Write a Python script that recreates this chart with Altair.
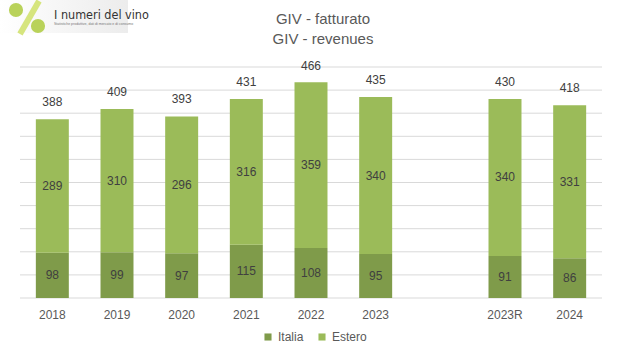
import altair as alt
import pandas as pd

# ---- data ----
categories = ["2018", "2019", "2020", "2021", "2022", "2023", " ", "2023R", "2024"]
bar_years = ["2018", "2019", "2020", "2021", "2022", "2023", "2023R", "2024"]
italia = [98, 99, 97, 115, 108, 95, 91, 86]
estero = [289, 310, 296, 316, 359, 340, 340, 331]
totals = [388, 409, 393, 431, 466, 435, 430, 418]
series = ["Italia", "Estero"]
colors = ["#7F9B4A", "#9BBB59"]
title_lines = ["GIV - fatturato", "GIV - revenues"]
grid_values = [0, 50, 100, 150, 200, 250, 300, 350, 400, 450, 500]

rows = []
for y, i, e in zip(bar_years, italia, estero):
    rows.append({"year": y, "serie": "Italia", "ord": 0, "value": i})
    rows.append({"year": y, "serie": "Estero", "ord": 1, "value": e})
df = pd.DataFrame(rows)
tot = pd.DataFrame({"year": bar_years, "total": totals})
grid_df = pd.DataFrame({"g": grid_values})

FONT = "Liberation Sans"
TXT = "#595959"
LBL = "#404040"

xscale = alt.Scale(domain=categories, paddingInner=0.49, paddingOuter=0.245)
yscale = alt.Scale(domain=[0, 500], nice=False)

xaxis = alt.Axis(title=None, labelFontSize=12, labelColor=TXT, labelFont=FONT,
                 domain=False, ticks=False, labelPadding=11, labelAngle=0, grid=False)
yaxis = alt.Axis(title=None, labels=False, ticks=False, domain=False, grid=False)

grid = alt.Chart(grid_df).mark_rule(color="#D9D9D9", strokeWidth=1).encode(
    y=alt.Y("g:Q", scale=yscale, axis=yaxis)
)

base = alt.Chart(df).transform_stack(
    stack="value", groupby=["year"], as_=["y0", "y1"],
    sort=[alt.SortField("ord", order="ascending")]
).transform_calculate(mid="(datum.y0 + datum.y1) / 2")

bars = base.mark_bar().encode(
    x=alt.X("year:N", scale=xscale, axis=xaxis),
    y=alt.Y("y0:Q", scale=yscale, axis=yaxis),
    y2="y1:Q",
    color=alt.Color("serie:N", scale=alt.Scale(domain=series, range=colors),
                    legend=alt.Legend(title=None, orient="none", legendX=242, legendY=264,
                                      direction="horizontal", symbolType="square",
                                      symbolSize=50, symbolStrokeWidth=0,
                                      labelFontSize=12, labelColor=TXT, labelFont=FONT,
                                      columnPadding=12, labelOffset=4)),
)

seg_labels = base.mark_text(fontSize=12, color=LBL, font=FONT, baseline="middle").encode(
    x=alt.X("year:N", scale=xscale, axis=xaxis),
    y=alt.Y("mid:Q", scale=yscale, axis=yaxis),
    text="value:Q",
)

tot_labels = alt.Chart(tot).mark_text(fontSize=12, color=LBL, font=FONT,
                                      baseline="middle", dy=-17).encode(
    x=alt.X("year:N", scale=xscale, axis=xaxis),
    y=alt.Y("total:Q", scale=yscale, axis=yaxis),
    text="total:Q",
)

one = alt.Data(values=[{"a": 1}])

title1 = alt.Chart(one).mark_text(text=title_lines[0], fontSize=15, font=FONT, color=TXT,
                                  baseline="middle", align="center").encode(
    x=alt.value(303), y=alt.value(-48))
title2 = alt.Chart(one).mark_text(text=title_lines[1], fontSize=15, font=FONT, color=TXT,
                                  baseline="middle", align="center").encode(
    x=alt.value(303), y=alt.value(-28))

# logo approximation
logo_bg = alt.Chart(one).mark_rect(
    fill=alt.Gradient(gradient="linear", stops=[alt.GradientStop(color="#FFFFFF", offset=0),
                                                alt.GradientStop(color="#ECECEC", offset=1)],
                      x1=0, x2=1, y1=0, y2=0)
).encode(x=alt.value(-20), x2=alt.value(108), y=alt.value(-67), y2=alt.value(-34))
logo_slash = alt.Chart(one).mark_rule(color="#D6E57E", strokeWidth=6).encode(
    x=alt.value(19), x2=alt.value(0), y=alt.value(-66), y2=alt.value(-33))
logo_grapes = alt.Chart(pd.DataFrame({"gx": [-4, 18], "gy": [-57, -41]})).mark_circle(
    color="#B9D25A", opacity=1, size=200).encode(
    x=alt.X("gx:Q", scale=None), y=alt.Y("gy:Q", scale=None))
logo_text = alt.Chart(one).mark_text(text="I numeri del vino", fontSize=12.5,
                                     font="'DejaVu Sans Condensed', Roboto, sans-serif",
                                     color="#333333",
                                     align="left", baseline="middle").encode(
    x=alt.value(34), y=alt.value(-52))
logo_sub = alt.Chart(one).mark_text(text="Statistiche produttive, dati di mercato e di consumo",
                                    fontSize=3.5, font=FONT, color="#777777",
                                    align="left", baseline="middle").encode(
    x=alt.value(34), y=alt.value(-43))

chart = alt.layer(
    grid, bars, seg_labels, tot_labels, title1, title2,
    logo_bg, logo_slash, logo_grapes, logo_text, logo_sub
).properties(
    width=582, height=231,
    autosize=alt.AutoSizeParams(type="none"),
    padding={"left": 20, "top": 67, "right": 18, "bottom": 60},
    background="white",
).configure_view(stroke=None)

chart.save("out.html", embed_options={"renderer": "svg", "actions": False})
